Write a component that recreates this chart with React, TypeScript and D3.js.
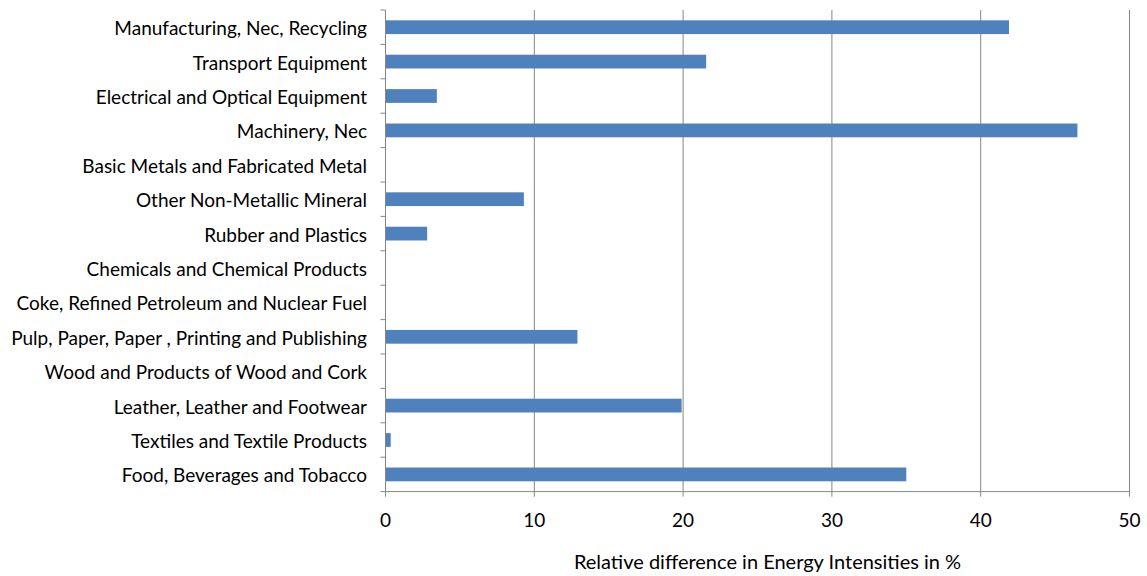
import React from "react";
import * as d3 from "d3";

// Sectors, listed bottom to top as they appear on the axis
const categories: string[] = [
  "Food, Beverages and Tobacco",
  "Textiles and Textile Products",
  "Leather, Leather and Footwear",
  "Wood and Products of Wood and Cork",
  "Pulp, Paper, Paper , Printing and Publishing",
  "Coke, Refined Petroleum and Nuclear Fuel",
  "Chemicals and Chemical Products",
  "Rubber and Plastics",
  "Other Non-Metallic Mineral",
  "Basic Metals and Fabricated Metal",
  "Machinery, Nec",
  "Electrical and Optical Equipment",
  "Transport Equipment",
  "Manufacturing, Nec, Recycling",
];

// Relative difference in energy intensity (%) per sector
const values: number[] = [35.0, 0.35, 19.9, 0, 12.9, 0, 0, 2.8, 9.3, 0, 46.5, 3.45, 21.55, 41.9];

const xTicks: number[] = [0, 10, 20, 30, 40, 50];

const xTitle = "Relative difference in Energy Intensities in %";

const W = 1147;
const H = 576;
const margin = { left: 385.5, right: 17.5, top: 10, bottom: 84.4 };
const FONT = "Lato, 'Open Sans', sans-serif";

export default function App() {
  const x = d3
    .scaleLinear()
    .domain([0, 50])
    .range([margin.left, W - margin.right]);

  // top-to-bottom order for the band scale
  const order = [...categories].reverse();
  const y = d3
    .scaleBand<string>()
    .domain(order)
    .range([margin.top, H - margin.bottom])
    .paddingInner(0)
    .paddingOuter(0);

  const band = y.bandwidth();
  const barH = band / 2.5;
  const axisColor = "#868686";
  const plotBottom = H - margin.bottom;

  return (
    <svg
      width={W}
      height={H}
      style={{ position: "absolute", left: 0, top: 0, background: "#fff" }}
      fontFamily={FONT}
    >
      {/* vertical gridlines */}
      {xTicks.slice(1).map((t) => (
        <line
          key={"g" + t}
          x1={x(t)}
          x2={x(t)}
          y1={margin.top}
          y2={plotBottom}
          stroke={axisColor}
          strokeWidth={1}
        />
      ))}

      {/* bars */}
      {categories.map((c, i) => {
        const v = values[i];
        if (v <= 0) return null;
        const yc = (y(c) as number) + band / 2;
        return (
          <rect
            key={c}
            x={x(0)}
            y={yc - barH / 2}
            width={x(v) - x(0)}
            height={barH}
            fill="#4F81BD"
          />
        );
      })}

      {/* category axis */}
      <line
        x1={x(0)}
        x2={x(0)}
        y1={margin.top}
        y2={plotBottom}
        stroke={axisColor}
        strokeWidth={1}
      />
      {d3.range(order.length + 1).map((k) => {
        const yy = margin.top + k * band;
        return (
          <line
            key={"yt" + k}
            x1={x(0) - 5}
            x2={x(0)}
            y1={yy}
            y2={yy}
            stroke={axisColor}
            strokeWidth={1}
          />
        );
      })}
      {order.map((c) => (
        <text
          key={"l" + c}
          x={367}
          y={(y(c) as number) + band / 2 + 8}
          textAnchor="end"
          fontSize={19}
          fill="#000"
        >
          {c}
        </text>
      ))}

      {/* value axis */}
      <line
        x1={x(0)}
        x2={x(50)}
        y1={plotBottom}
        y2={plotBottom}
        stroke={axisColor}
        strokeWidth={1}
      />
      {xTicks.map((t) => (
        <g key={"xt" + t}>
          <line
            x1={x(t)}
            x2={x(t)}
            y1={plotBottom}
            y2={plotBottom + 5}
            stroke={axisColor}
            strokeWidth={1}
          />
          <text
            x={x(t)}
            y={526.5}
            textAnchor="middle"
            fontSize={19}
            fill="#000"
          >
            {t}
          </text>
        </g>
      ))}
      <text
        x={767.5}
        y={569}
        textAnchor="middle"
        fontSize={20}
        fill="#000"
      >
        {xTitle}
      </text>
    </svg>
  );
}
